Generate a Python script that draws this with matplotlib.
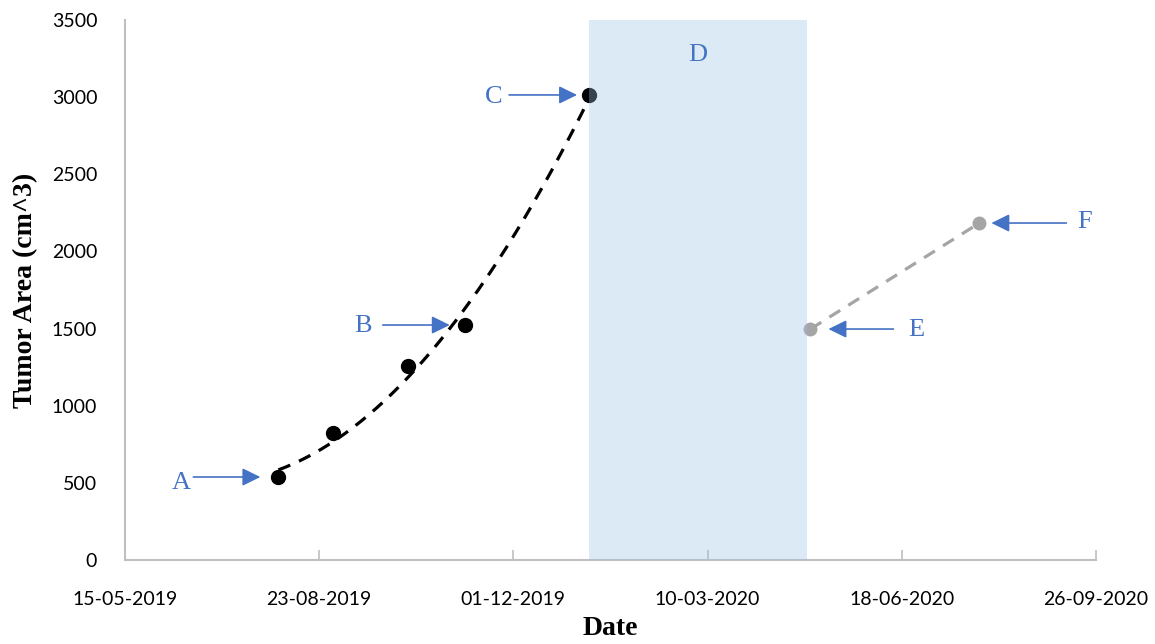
import numpy as np
import matplotlib
matplotlib.use("Agg")
import matplotlib.pyplot as plt
import matplotlib.dates as mdates
from datetime import date, timedelta

# measured tumor area, before treatment (black) and after (grey)
pre_dates = [date(2019, 8, 2), date(2019, 8, 30), date(2019, 10, 8),
             date(2019, 11, 6), date(2020, 1, 9)]
pre_area = [538, 823, 1257, 1523, 3014]
post_dates = [date(2020, 5, 2), date(2020, 7, 28)]
post_area = [1497, 2184]

# treatment window (D)
shade_start = date(2020, 1, 9)
shade_end = date(2020, 4, 30)

x_start = date(2019, 5, 15)
x_end = date(2020, 9, 26)
tick_step = 100
y_ticks = list(range(0, 3501, 500))

# labels: (letter, date, value, text offset px, arrow tail px, arrow tip gap px)
labels = [
    ("A", pre_dates[0], pre_area[0], (-97, -6), -85, 18),
    ("B", pre_dates[3], pre_area[3], (-102, -1), -82, 15),
    ("C", pre_dates[4], pre_area[4], (-95, -2), -80, 12),
    ("E", post_dates[0], post_area[0], (106, -1), 83, 18),
    ("F", post_dates[1], post_area[1], (105, 1), 87, 12),
]

blue = "#4472C4"
axis_grey = "#BFBFBF"

fig = plt.figure(figsize=(11.55, 6.44), dpi=100)
ax = fig.add_axes([0.1082, 0.1304, 0.8406, 0.8386])

pre_x = mdates.date2num(pre_dates)
post_x = mdates.date2num(post_dates)

# quadratic trend line through the pre-treatment points
coef = np.polyfit(pre_x - pre_x[0], pre_area, 2)
tx = np.linspace(pre_x[0], pre_x[-1], 200)
ty = np.polyval(coef, tx - pre_x[0])
ax.plot(tx, ty, color="black", lw=2.3, ls=(0, (4, 3)), zorder=3)
ax.plot(pre_x, pre_area, "o", color="black", ms=10, zorder=4)

ax.plot(post_x, post_area, color="#A5A5A5", lw=2.3, ls=(0, (4, 3)), zorder=3)
ax.plot(post_x, post_area, "o", color="#A5A5A5", ms=9, zorder=4)

ax.axvspan(mdates.date2num(shade_start), mdates.date2num(shade_end),
           color="#9DC3E6", alpha=0.35, lw=0, zorder=5)
ax.text(mdates.date2num(shade_start + (shade_end - shade_start) / 2), 3270, "D",
        color=blue, fontsize=19, family="Liberation Serif",
        ha="center", va="center", zorder=6)

for letter, d, v, toff, tail, gap in labels:
    xd = mdates.date2num(d)
    ax.annotate(letter, xy=(xd, v), xytext=toff, textcoords="offset pixels",
                color=blue, fontsize=19, family="Liberation Serif",
                ha="center", va="center", zorder=6)
    ax.annotate("", xy=(xd, v), xytext=(tail, 0), textcoords="offset pixels",
                arrowprops=dict(arrowstyle="-|>,head_length=0.55,head_width=0.27",
                                color=blue, lw=1.2, mutation_scale=20,
                                shrinkA=0, shrinkB=gap * 0.72),
                zorder=6)

x0 = mdates.date2num(x_start)
x1 = mdates.date2num(x_end)
ax.set_xlim(x0, x1)
ax.set_xticks(np.arange(x0, x1 + 1, tick_step))
ax.xaxis.set_major_formatter(mdates.DateFormatter("%d-%m-%Y"))
ax.set_ylim(0, 3500)
ax.set_yticks(y_ticks)

for s in ["top", "right"]:
    ax.spines[s].set_visible(False)
for s in ["left", "bottom"]:
    ax.spines[s].set_color(axis_grey)
    ax.spines[s].set_linewidth(1.5)

ax.tick_params(axis="x", direction="in", length=7, width=1.2, color=axis_grey,
               pad=22, labelsize=14)
ax.tick_params(axis="y", length=0, pad=20, labelsize=14)
for t in ax.get_xticklabels() + ax.get_yticklabels():
    t.set_family("Lato")

ax.set_xlabel("Date", fontsize=20, fontweight="bold", family="Liberation Serif",
              labelpad=6)
ax.set_ylabel("Tumor Area (cm^3)", fontsize=20, fontweight="bold",
              family="Liberation Serif", labelpad=10)

fig.savefig("out.png", dpi=100)
